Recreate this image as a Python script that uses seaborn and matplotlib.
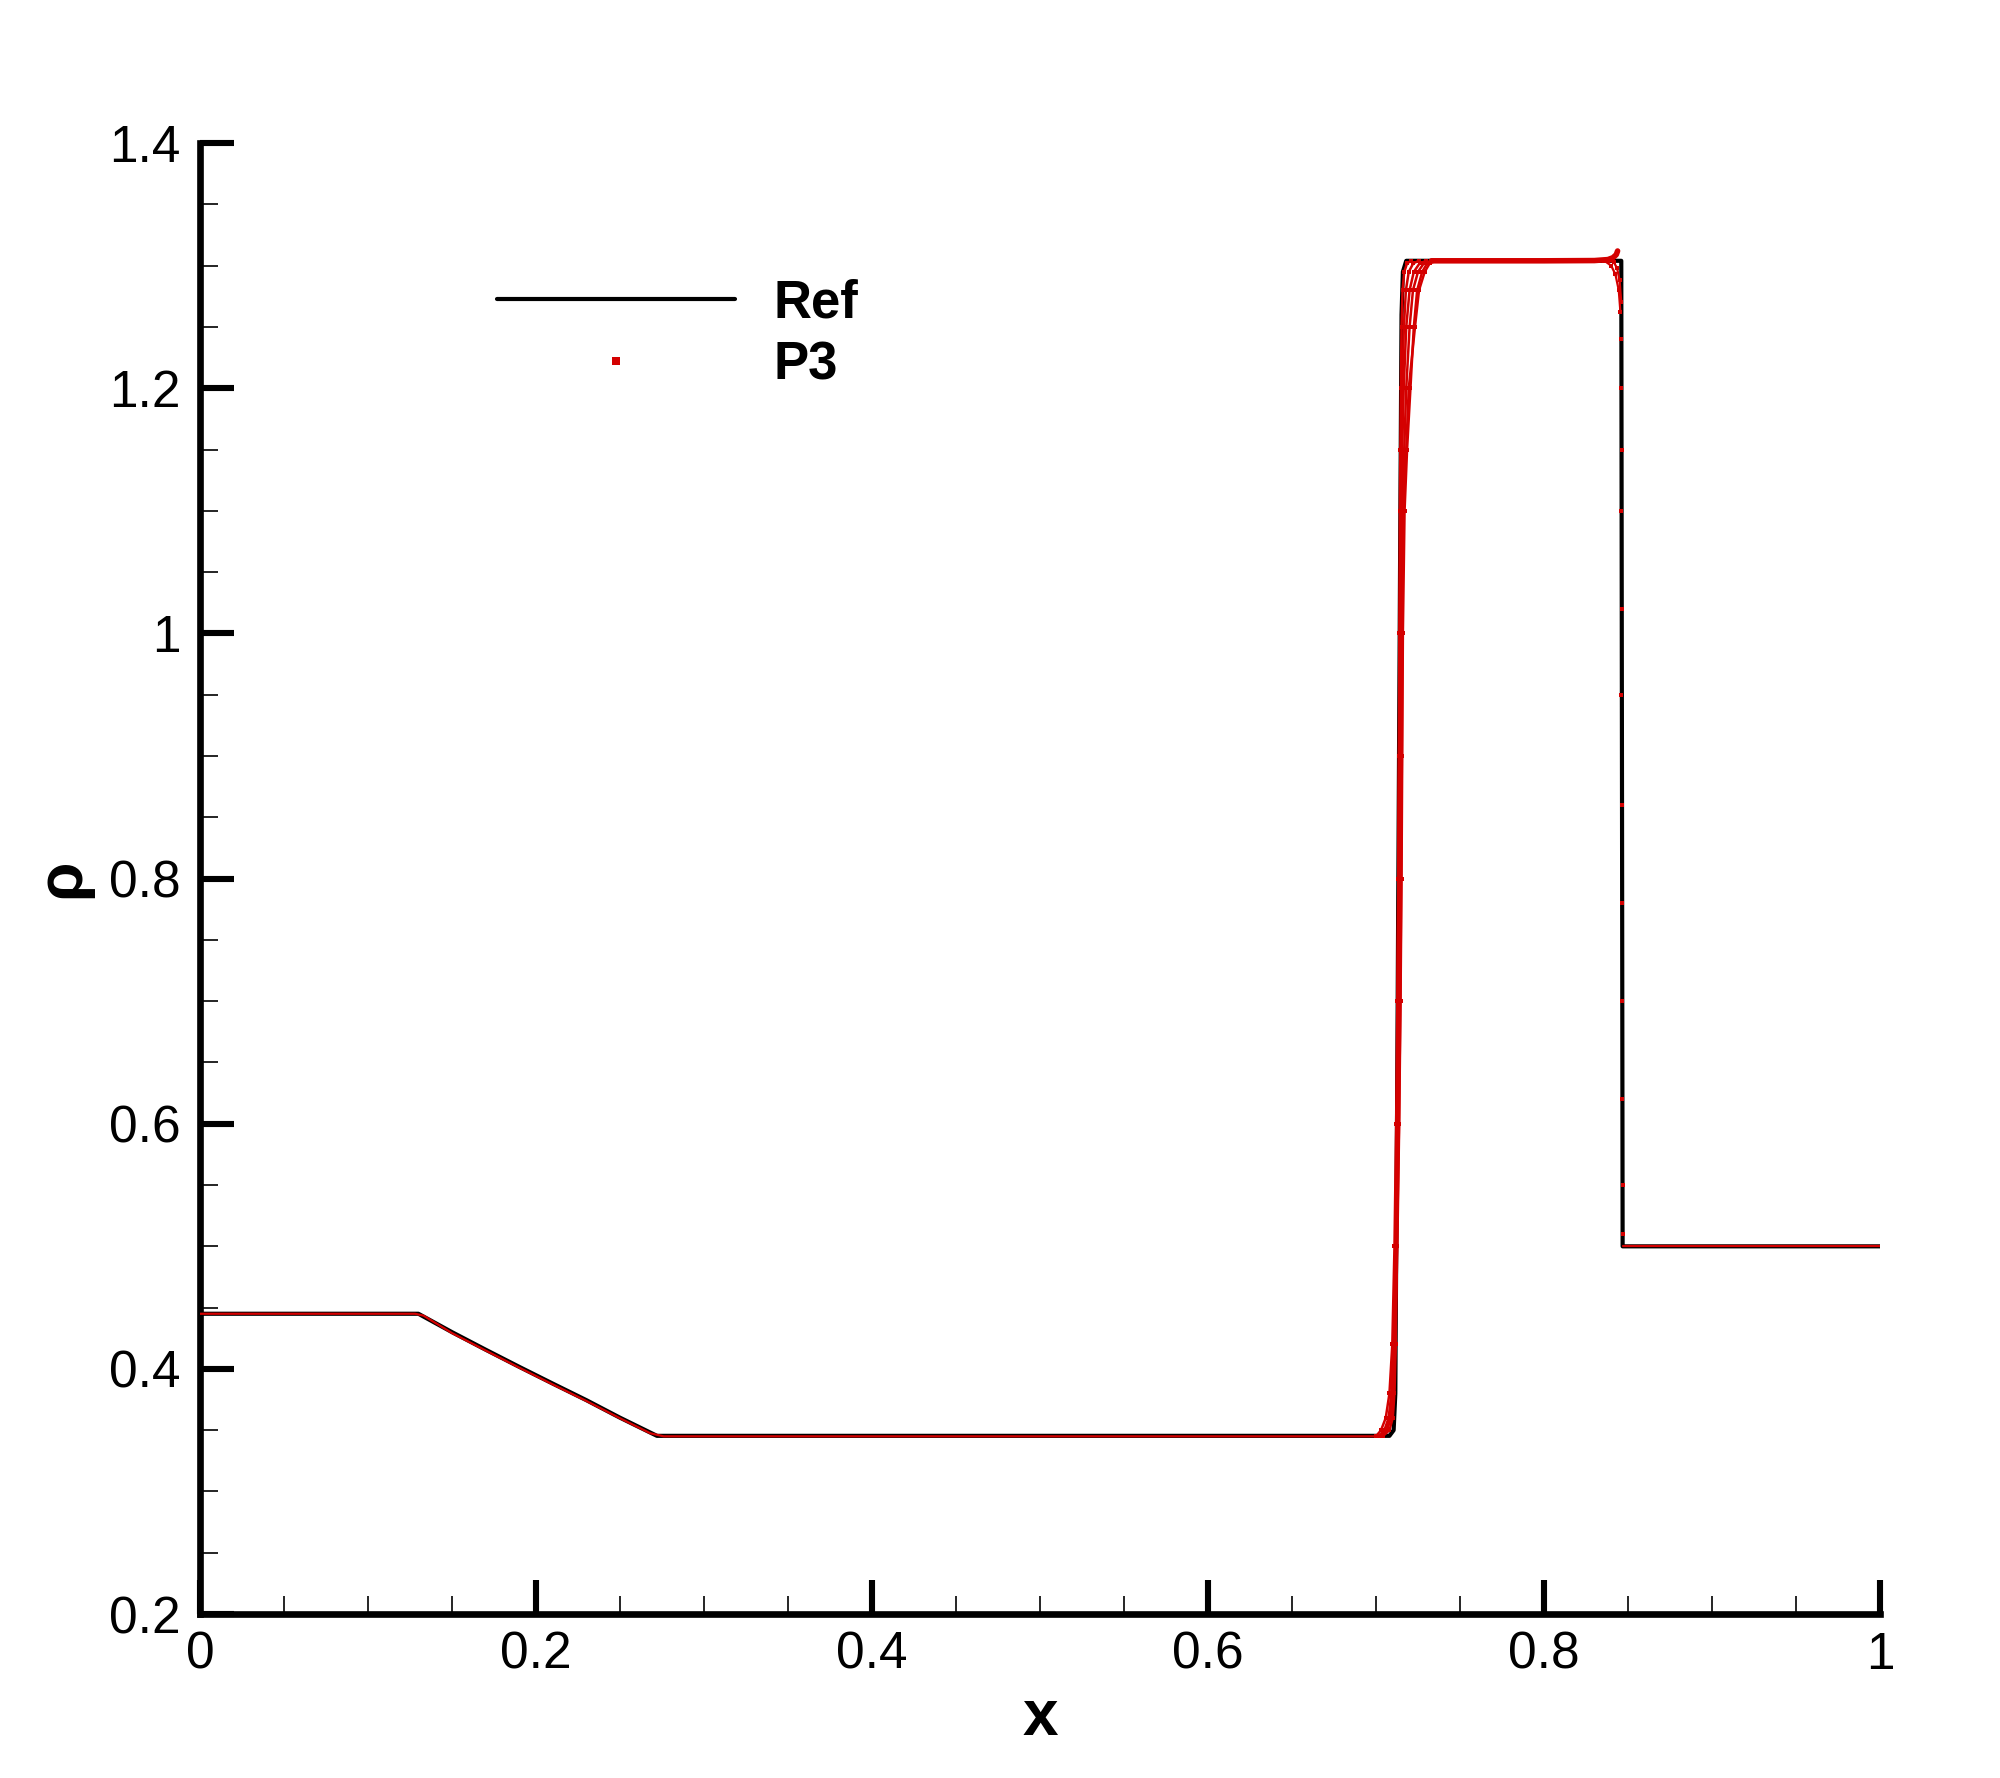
import pandas as pd
import seaborn as sns
import matplotlib.pyplot as plt
from matplotlib.ticker import MultipleLocator
from matplotlib.lines import Line2D

# ---- reference solution (fine grid) ----
ref_x = [0.0, 0.130, 0.150, 0.170, 0.190, 0.210, 0.230, 0.250, 0.272, 0.500,
         0.7080, 0.7105, 0.7115, 0.7125, 0.7135, 0.7145, 0.7152, 0.7160, 0.7180,
         0.800, 0.8460, 0.8464, 0.8468, 1.0]
ref_rho = [0.445, 0.445, 0.4300, 0.4157, 0.4017, 0.3880, 0.3745, 0.3602, 0.3454, 0.3454,
           0.3454, 0.350, 0.380, 0.600, 0.850, 1.100, 1.260, 1.295, 1.304,
           1.304, 1.304, 0.900, 0.500, 0.500]

# ---- P3 solution: smooth parts ----
p3_left_x = [0.0, 0.128, 0.133, 0.150, 0.170, 0.190, 0.210, 0.230, 0.250, 0.268, 0.276, 0.500, 0.700]
p3_left_rho = [0.445, 0.445, 0.4435, 0.4292, 0.4150, 0.4010, 0.3873, 0.3738, 0.3597, 0.3475, 0.3450, 0.3450, 0.3450]

p3_top_x = [0.733, 0.760, 0.800, 0.830, 0.838, 0.841, 0.8430, 0.8438]
p3_top_rho = [1.304, 1.304, 1.304, 1.3042, 1.305, 1.3065, 1.309, 1.312]

p3_right_x = [0.8468, 0.860, 1.0]
p3_right_rho = [0.500, 0.500, 0.500]

# ---- P3 solution: smeared contact (several cell profiles) ----
contact_rho = [0.345, 0.350, 0.360, 0.380, 0.420, 0.500, 0.600, 0.700, 0.800, 0.900,
               1.000, 1.100, 1.150, 1.200, 1.250, 1.280, 1.295, 1.302, 1.304]
contact_x_a = [0.7040, 0.7080, 0.7100, 0.7110, 0.7118, 0.7123, 0.7127, 0.7130, 0.7133, 0.7136,
               0.7139, 0.7142, 0.7145, 0.7148, 0.7152, 0.7158, 0.7168, 0.7185, 0.7210]
contact_x_b = [0.7000, 0.7030, 0.7058, 0.7080, 0.7097, 0.7110, 0.7120, 0.7127, 0.7133, 0.7138,
               0.7143, 0.7150, 0.7156, 0.7165, 0.7180, 0.7200, 0.7225, 0.7260, 0.7300]
contact_x_c = [0.7020, 0.7050, 0.7075, 0.7092, 0.7105, 0.7117, 0.7127, 0.7135, 0.7143, 0.7150,
               0.7155, 0.7160, 0.7168, 0.7180, 0.7200, 0.7220, 0.7250, 0.7285, 0.7330]
contact_x_d = [0.7030, 0.7060, 0.7085, 0.7100, 0.7112, 0.7125, 0.7137, 0.7145, 0.7150, 0.7154,
               0.7157, 0.7160, 0.7180, 0.7195, 0.7232, 0.7256, 0.7290, 0.7320, 0.7360]
contact_x_e = [0.7020, 0.7055, 0.7080, 0.7095, 0.7108, 0.7117, 0.7124, 0.7129, 0.7133, 0.7137,
               0.7141, 0.7146, 0.7150, 0.7156, 0.7166, 0.7178, 0.7195, 0.7222, 0.7255]
contact_x_f = [0.7035, 0.7065, 0.7090, 0.7104, 0.7115, 0.7127, 0.7138, 0.7146, 0.7152, 0.7156,
               0.7160, 0.7170, 0.7185, 0.7205, 0.7225, 0.7245, 0.7275, 0.7305, 0.7345]

# ---- P3 solution: around the shock ----
fan1_x = [0.836, 0.840, 0.8425, 0.8445, 0.8455]
fan1_rho = [1.304, 1.300, 1.293, 1.280, 1.262]
fan2_x = [0.838, 0.8415, 0.8435, 0.8450, 0.8460]
fan2_rho = [1.304, 1.303, 1.298, 1.288, 1.270]
shock_x = [0.8458, 0.8460, 0.8462, 0.8459, 0.8463, 0.8461, 0.8464, 0.8462, 0.8465, 0.8466, 0.8468, 0.8470]
shock_rho = [1.24, 1.20, 1.15, 1.10, 1.02, 0.95, 0.86, 0.78, 0.70, 0.62, 0.55, 0.51]

x_ticks = [0, 0.2, 0.4, 0.6, 0.8, 1.0]
x_ticklabels = ["0", "0.2", "0.4", "0.6", "0.8", "1"]
y_ticks = [0.2, 0.4, 0.6, 0.8, 1.0, 1.2, 1.4]
y_ticklabels = ["0.2", "0.4", "0.6", "0.8", "1", "1.2", "1.4"]

red = "#d40000"

contact = pd.concat([
    pd.DataFrame({"x": xs, "rho": contact_rho, "profile": k})
    for k, xs in enumerate([contact_x_a, contact_x_b, contact_x_c,
                            contact_x_d, contact_x_e, contact_x_f])
])
fans = pd.concat([
    pd.DataFrame({"x": fan1_x, "rho": fan1_rho, "profile": 0}),
    pd.DataFrame({"x": fan2_x, "rho": fan2_rho, "profile": 1}),
])

sns.set_style("ticks")
plt.rcParams['font.family'] = ['Liberation Sans', 'DejaVu Sans']
plt.rcParams.update({"text.color": "black", "axes.labelcolor": "black",
                     "xtick.color": "black", "ytick.color": "black",
                     "axes.edgecolor": "black"})

fig = plt.figure(figsize=(10, 8.89), dpi=200)
ax = fig.add_axes([0.1, 0.0922, 0.84, 0.8273])

sns.lineplot(x=ref_x, y=ref_rho, sort=False, estimator=None, color="black", lw=1.5, ax=ax, zorder=2)

for xs, ys in [(p3_left_x, p3_left_rho), (p3_right_x, p3_right_rho)]:
    sns.lineplot(x=xs, y=ys, sort=False, estimator=None, color=red, lw=0.8, ax=ax, zorder=3)
sns.lineplot(x=p3_top_x, y=p3_top_rho, sort=False, estimator=None, color=red, lw=2.0, ax=ax, zorder=3)
sns.lineplot(data=contact, x="x", y="rho", units="profile", sort=False, estimator=None,
             color=red, lw=0.9, marker="s", markersize=1.6, markeredgewidth=0, ax=ax, zorder=3)
sns.lineplot(data=fans, x="x", y="rho", units="profile", sort=False, estimator=None,
             color=red, lw=0.8, marker="s", markersize=1.6, markeredgewidth=0, ax=ax, zorder=3)
sns.scatterplot(x=shock_x, y=shock_rho, color=red, marker="s", s=3, linewidth=0, ax=ax, zorder=4)

ax.set_xticks(x_ticks, labels=x_ticklabels)
ax.set_yticks(y_ticks, labels=y_ticklabels)
ax.xaxis.set_minor_locator(MultipleLocator(0.05))
ax.yaxis.set_minor_locator(MultipleLocator(0.05))
ax.set_xlim(0, 1)
ax.set_ylim(0.2, 1.4)

sns.despine(ax=ax)
for s in ["left", "bottom"]:
    ax.spines[s].set_linewidth(2.4)
    ax.spines[s].set_color("black")
ax.tick_params(which="major", direction="in", length=12.2, width=2.2, labelsize=18.5, pad=7, color="black")
ax.tick_params(which="minor", direction="in", length=6.5, width=0.6, color="black")
ax.tick_params(axis="x", which="major", pad=6)

ax.set_xlabel("x", fontsize=23, fontweight="bold", labelpad=3)
ax.set_ylabel("ρ", fontsize=23, fontweight="bold", labelpad=6)

handles = [Line2D([], [], color="black", lw=1.5),
           Line2D([], [], color=red, marker="s", ls="none", markersize=3, markeredgewidth=0)]
ax.legend(handles, ["Ref", "P3"], loc="upper left", bbox_to_anchor=(0.177, 0.908),
          frameon=False, handlelength=4.5, handletextpad=0.74, labelspacing=0.23,
          borderpad=0, borderaxespad=0, prop={"weight": "bold", "size": 19})

plt.savefig("out.png", dpi=200)
